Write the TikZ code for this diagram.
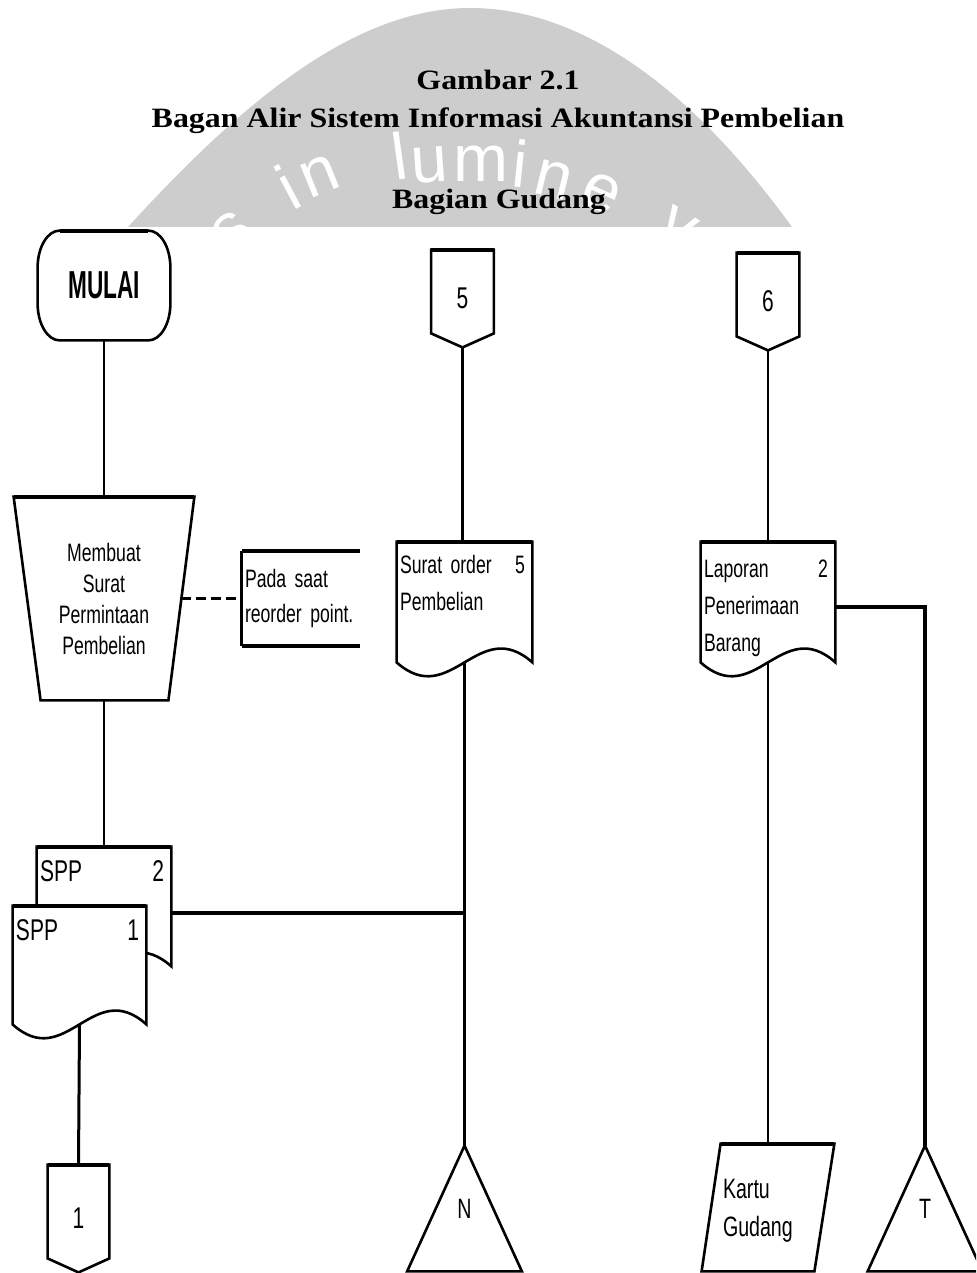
\documentclass[tikz,border=0pt]{standalone}
\usepackage{fontspec}
\setmainfont{Liberation Serif}
\newfontfamily\titlefont[FakeStretch=1.14]{Liberation Serif}
\newfontfamily\chartfont[FakeStretch=0.7]{Liberation Sans}
\newfontfamily\startfont[FakeStretch=0.58]{Liberation Sans}
\newfontfamily\markfont{Liberation Sans}
\newcommand{\chartsp}{\spaceskip=3pt plus 0.5pt minus 0.5pt\relax}
\usetikzlibrary{calc}

\definecolor{cInk} {RGB}{  0,  0,  0}
\definecolor{cMark}{RGB}{205,205,205}

%% document symbol (wavy bottom) round a frame node
\newcommand{\docshape}[1]{%
  \draw[outln, fill=white]
    (#1.south west) -- (#1.north west) -- (#1.north east) -- (#1.south east)
    .. controls ($(#1.south east)!0.4!(#1.south west)+(0,-48)$)
            and ($(#1.south east)!0.6!(#1.south west)+(0,48)$) .. (#1.south west) -- cycle;
  \draw[topln] (#1.north west) -- (#1.north east);}

%% off-page connector (pointed bottom) round a frame node
\newcommand{\offpage}[1]{%
  \draw[outln]
    (#1.north west) -- (#1.north east) -- ($(#1.south east)+(0,-14)$)
    -- (#1.south) -- ($(#1.south west)+(0,-14)$) -- cycle;
  \draw[topln] (#1.north west) -- (#1.north east);}

%% offline file (triangle) round a frame node
\newcommand{\fileshape}[1]{%
  \draw[outln] (#1.north) -- (#1.south east) -- (#1.south west) -- cycle;}

\begin{document}
\begin{tikzpicture}[
  x=0.5pt, y=-0.5pt,
  %% ── symbol outline ─────────────────────────────────────────────
  outln/.style={draw=cInk, line width=1.3pt, line join=miter},
  topln/.style={draw=cInk, line width=2pt},
  %% ── connectors ─────────────────────────────────────────────────
  flowln/.style={draw=cInk, line width=1.1pt},
  flowthk/.style={draw=cInk, line width=2pt},
  dashln/.style={draw=cInk, line width=1.5pt, dash pattern=on 5pt off 2.5pt},
  %% ── invisible frame that carries a symbol ─────────────────────
  shp/.style={draw=none, inner sep=0pt, align=center,
              font=\chartfont\fontsize{12.6}{15.5}\selectfont\chartsp},
  %% ── text inside a document symbol ─────────────────────────────
  doctxt/.style={anchor=north west, align=left, inner xsep=1.5pt,
                 font=\chartfont\fontsize{12.6}{18.5}\selectfont\chartsp},
  %% ── heading lines ─────────────────────────────────────────────
  ttl/.style={anchor=base, inner sep=0pt,
              font=\titlefont\bfseries\fontsize{14}{14}\selectfont},
  %% ── watermark letters ─────────────────────────────────────────
  wmltr/.style={inner sep=0pt, text=white, text height=17pt, text depth=0pt,
                font=\markfont\fontsize{33}{33}\selectfont},
]
\useasboundingbox (0,0) rectangle (976,1273);
\clip (0,0) rectangle (976,1273);

%% ═══════════════════════════════════════════════════════════════
%%  WATERMARK
%% ═══════════════════════════════════════════════════════════════
\fill[cMark] (128,227) .. controls (235,110) and (350,8) .. (470,8)
             .. controls (590,8) and (700,100) .. (792,227) -- cycle;
\begin{scope}
  \clip (128,227) .. controls (235,110) and (350,8) .. (470,8)
        .. controls (590,8) and (700,100) .. (792,227) -- cycle;
  \foreach \ch/\px/\py/\rot [count=\k] in
      {s/232/232/40, i/291/193/28, n/320/177/22, l/400/163/8, u/430/165/4,
       m/481/165/0, i/520/170/-6, n/553/180/-14, e/601/193/-24, v/677/228/-32}
    \node[wmltr, rotate=\rot] (wm\k) at (\px,\py) {\ch};
\end{scope}

%% ═══════════════════════════════════════════════════════════════
%%  HEADINGS
%% ═══════════════════════════════════════════════════════════════
\node[ttl] (ttlA) at (498,90)  {Gambar 2.1};
\node[ttl] (ttlB) at (498,128) {Bagan Alir Sistem Informasi Akuntansi Pembelian};
\node[ttl] (ttlC) at (499,209) {Bagian Gudang};

%% ═══════════════════════════════════════════════════════════════
%%  LEFT COLUMN
%% ═══════════════════════════════════════════════════════════════

%% start terminal
\node[shp, minimum width=66pt, minimum height=54.5pt,
      font=\startfont\bfseries\fontsize{19.5}{20}\selectfont] (mulai) at (104,285.5) {MULAI};
\draw[outln] ($(mulai.north west)+(22,0)$) -- ($(mulai.north east)+(-22,0)$)
  .. controls ($(mulai.north east)+(-9.9,0)$) and ($(mulai.north east)+(0,16.6)$)
  .. ($(mulai.north east)+(0,37)$)
  -- ($(mulai.south east)+(0,-37)$)
  .. controls ($(mulai.south east)+(0,-16.6)$) and ($(mulai.south east)+(-9.9,0)$)
  .. ($(mulai.south east)+(-22,0)$)
  -- ($(mulai.south west)+(22,0)$)
  .. controls ($(mulai.south west)+(9.9,0)$) and ($(mulai.south west)+(0,-16.6)$)
  .. ($(mulai.south west)+(0,-37)$)
  -- ($(mulai.north west)+(0,37)$)
  .. controls ($(mulai.north west)+(0,16.6)$) and ($(mulai.north west)+(9.9,0)$)
  .. ($(mulai.north west)+(22,0)$) -- cycle;
\draw[topln] ($(mulai.north west)+(22,0)$) -- ($(mulai.north east)+(-22,0)$);

%% manual operation
\node[shp, minimum width=90pt, minimum height=101.5pt] (trap) at (104,598.5)
  {Membuat\\Surat\\Permintaan\\Pembelian};
\draw[outln] (trap.north west) -- (trap.north east)
  -- ($(trap.south east)+(-26,0)$) -- ($(trap.south west)+(27,0)$) -- cycle;
\draw[topln] (trap.north west) -- (trap.north east);
\coordinate (trapR) at (181,598.5);

%% annotation
\node[shp, minimum width=59pt, minimum height=47.5pt, text width=56pt,
      align=left, inner xsep=1.5pt,
      font=\chartfont\fontsize{12.6}{17.5}\selectfont\chartsp] (note) at (301,598.5)
  {Pada saat\\reorder point.};
\draw[outln] (note.north west) -- (note.south west);
\draw[topln] (note.north east) -- (note.north west);
\draw[topln] (note.south west) -- (note.south east);

%% SPP, sheet 2 behind sheet 1
\node[shp, minimum width=67pt, minimum height=59.5pt] (spp2) at (104,906.5) {};
\docshape{spp2}
\node[doctxt, text width=62pt, inner ysep=6.6pt,
      font=\chartfont\fontsize{15}{18}\selectfont] (spp2T) at (spp2.north west) {SPP\hfill 2};

\node[shp, minimum width=66.5pt, minimum height=59pt] (spp1) at (79.5,965) {};
\docshape{spp1}
\node[doctxt, text width=61.5pt, inner ysep=6.6pt,
      font=\chartfont\fontsize{15}{18}\selectfont] (spp1T) at (spp1.north west) {SPP\hfill 1};

%% off-page connector 1
\node[shp, minimum width=30.5pt, minimum height=53.5pt,
      font=\chartfont\fontsize{15}{15}\selectfont] (off1) at (78.5,1218.5) {1};
\offpage{off1}

%% ═══════════════════════════════════════════════════════════════
%%  MIDDLE COLUMN
%% ═══════════════════════════════════════════════════════════════
\node[shp, minimum width=31pt, minimum height=48.5pt,
      font=\chartfont\fontsize{15}{15}\selectfont] (off5) at (462.5,298.5) {5};
\offpage{off5}

\node[shp, minimum width=67.5pt, minimum height=60pt] (sop) at (464.5,602) {};
\docshape{sop}
\node[doctxt, text width=62.5pt, inner ysep=6.8pt] (sopT) at (sop.north west)
  {Surat order\hfill 5\\Pembelian};

\node[shp, minimum width=57pt, minimum height=62.5pt,
      font=\chartfont\fontsize{14}{14}\selectfont] (fileN) at (464.5,1208.5) {N};
\fileshape{fileN}

%% ═══════════════════════════════════════════════════════════════
%%  RIGHT COLUMN
%% ═══════════════════════════════════════════════════════════════
\node[shp, minimum width=31pt, minimum height=48.5pt,
      font=\chartfont\fontsize{15}{15}\selectfont] (off6) at (768,301.5) {6};
\offpage{off6}

\node[shp, minimum width=67pt, minimum height=60pt] (lpb) at (768,602) {};
\docshape{lpb}
\node[doctxt, text width=62pt, inner ysep=9pt] (lpbT) at (lpb.north west)
  {Laporan\hfill 2\\Penerimaan\\Barang};

\node[shp, minimum width=66pt, minimum height=63.5pt, text width=45pt, align=left,
      font=\chartfont\fontsize{14}{19}\selectfont] (kartu) at (768,1207.5)
  {\rule{0pt}{13pt}Kartu\\Gudang};
\draw[outln] ($(kartu.north west)+(19,0)$) -- (kartu.north east)
  -- ($(kartu.south east)+(-20,0)$) -- (kartu.south west) -- cycle;
\draw[topln] ($(kartu.north west)+(19,0)$) -- (kartu.north east);

\node[shp, minimum width=57pt, minimum height=62.5pt,
      font=\chartfont\fontsize{14}{14}\selectfont] (fileT) at (925,1208.5) {T};
\fileshape{fileT}

%% ═══════════════════════════════════════════════════════════════
%%  CONNECTORS
%% ═══════════════════════════════════════════════════════════════
\draw[flowln] (mulai) -- (trap);
\draw[flowln] (trap.south) -- (trap.south |- spp2.north);
\draw[dashln] (trapR) -- (note.west);
\draw[flowln, line width=1.5pt] (spp1.south) -- (off1.north);

\draw[flowln] (off5.south) -- (off5.south |- sop.north);
\draw[flowln] (sop.south) -- (fileN.north);
\coordinate (sppOut) at ([yshift=-3pt]spp2.east);
\draw[flowthk] (sppOut) -- (sppOut -| sop.south);

\draw[flowln] (off6.south) -- (lpb.north);
\draw[flowln] (lpb.south) -- (kartu.north);
\coordinate (lpbOut) at ([yshift=-2.5pt]lpb.east);
\draw[flowln, line width=1.6pt] (lpbOut) -| (fileT.north);

\end{tikzpicture}
\end{document}
